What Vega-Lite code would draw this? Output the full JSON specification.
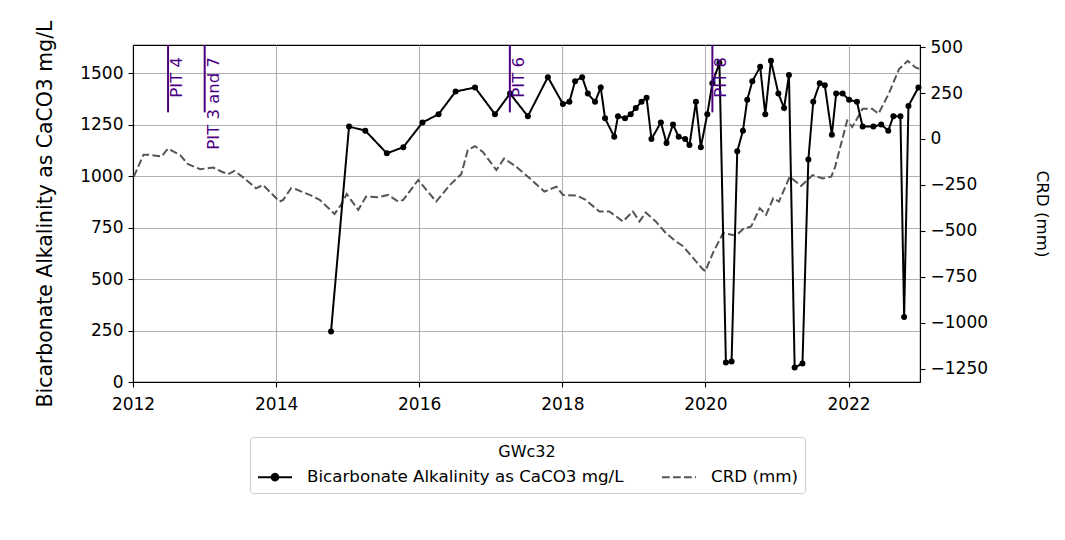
{
  "$schema": "https://vega.github.io/schema/vega-lite/v6.json",
  "width": 787,
  "height": 337,
  "autosize": {"type": "none"},
  "padding": {"left": 133, "top": 45, "right": 145, "bottom": 158},
  "background": "white",
  "datasets": {
    "crd": [
      {"date": "2012-01-05", "v": -205}, {"date": "2012-02-24", "v": -85}, {"date": "2012-03-18", "v": -85},
      {"date": "2012-05-26", "v": -95}, {"date": "2012-06-28", "v": -52}, {"date": "2012-08-29", "v": -88},
      {"date": "2012-10-08", "v": -137}, {"date": "2012-12-09", "v": -164}, {"date": "2013-02-13", "v": -155},
      {"date": "2013-03-29", "v": -178}, {"date": "2013-04-30", "v": -191}, {"date": "2013-06-02", "v": -173},
      {"date": "2013-07-23", "v": -214}, {"date": "2013-09-20", "v": -268}, {"date": "2013-10-26", "v": -250},
      {"date": "2013-12-16", "v": -304}, {"date": "2014-01-18", "v": -340}, {"date": "2014-02-06", "v": -331},
      {"date": "2014-03-18", "v": -268}, {"date": "2014-04-12", "v": -273}, {"date": "2014-06-21", "v": -304},
      {"date": "2014-08-11", "v": -331}, {"date": "2014-10-26", "v": -407}, {"date": "2014-11-28", "v": -358},
      {"date": "2014-12-27", "v": -299}, {"date": "2015-02-24", "v": -385}, {"date": "2015-04-05", "v": -313},
      {"date": "2015-06-06", "v": -317}, {"date": "2015-07-27", "v": -304}, {"date": "2015-09-16", "v": -340},
      {"date": "2015-10-12", "v": -331}, {"date": "2015-12-27", "v": -223}, {"date": "2016-03-28", "v": -340},
      {"date": "2016-06-06", "v": -250}, {"date": "2016-08-03", "v": -191}, {"date": "2016-09-05", "v": -61},
      {"date": "2016-10-12", "v": -39}, {"date": "2016-11-21", "v": -70}, {"date": "2017-01-29", "v": -169},
      {"date": "2017-03-10", "v": -106}, {"date": "2017-05-11", "v": -151}, {"date": "2017-07-23", "v": -218},
      {"date": "2017-10-01", "v": -286}, {"date": "2017-12-02", "v": -259}, {"date": "2018-01-04", "v": -304},
      {"date": "2018-03-18", "v": -308}, {"date": "2018-04-30", "v": -331}, {"date": "2018-07-09", "v": -394},
      {"date": "2018-08-29", "v": -394}, {"date": "2018-11-06", "v": -448}, {"date": "2018-12-27", "v": -394},
      {"date": "2019-01-30", "v": -448}, {"date": "2019-03-03", "v": -400}, {"date": "2019-04-23", "v": -448},
      {"date": "2019-06-13", "v": -511}, {"date": "2019-08-03", "v": -556}, {"date": "2019-09-09", "v": -583},
      {"date": "2019-10-30", "v": -646}, {"date": "2019-12-20", "v": -709}, {"date": "2020-01-01", "v": -718},
      {"date": "2020-02-09", "v": -619}, {"date": "2020-04-01", "v": -511}, {"date": "2020-06-06", "v": -525},
      {"date": "2020-07-12", "v": -489}, {"date": "2020-08-22", "v": -475}, {"date": "2020-10-05", "v": -376},
      {"date": "2020-11-06", "v": -412}, {"date": "2020-12-13", "v": -322}, {"date": "2021-01-11", "v": -340},
      {"date": "2021-03-07", "v": -205}, {"date": "2021-05-04", "v": -255}, {"date": "2021-07-02", "v": -196},
      {"date": "2021-08-22", "v": -214}, {"date": "2021-10-05", "v": -205}, {"date": "2021-10-25", "v": -150},
      {"date": "2021-12-25", "v": 100}, {"date": "2022-01-20", "v": 65}, {"date": "2022-03-14", "v": 164},
      {"date": "2022-05-01", "v": 165}, {"date": "2022-06-03", "v": 137}, {"date": "2022-07-27", "v": 250},
      {"date": "2022-09-16", "v": 380}, {"date": "2022-10-30", "v": 425}, {"date": "2022-12-09", "v": 389},
      {"date": "2022-12-31", "v": 380}
    ],
    "alk": [
      {"date": "2014-10-08", "v": 245}, {"date": "2015-01-08", "v": 1240}, {"date": "2015-04-01", "v": 1220},
      {"date": "2015-07-20", "v": 1110}, {"date": "2015-10-12", "v": 1140}, {"date": "2016-01-18", "v": 1260},
      {"date": "2016-04-09", "v": 1300}, {"date": "2016-07-05", "v": 1410}, {"date": "2016-10-12", "v": 1430},
      {"date": "2017-01-22", "v": 1300}, {"date": "2017-04-09", "v": 1400}, {"date": "2017-07-09", "v": 1290},
      {"date": "2017-10-19", "v": 1480}, {"date": "2018-01-04", "v": 1350}, {"date": "2018-02-06", "v": 1360},
      {"date": "2018-03-07", "v": 1460}, {"date": "2018-04-12", "v": 1480}, {"date": "2018-05-11", "v": 1400},
      {"date": "2018-06-17", "v": 1360}, {"date": "2018-07-16", "v": 1430}, {"date": "2018-08-07", "v": 1280},
      {"date": "2018-09-23", "v": 1190}, {"date": "2018-10-12", "v": 1290}, {"date": "2018-11-17", "v": 1280},
      {"date": "2018-12-16", "v": 1300}, {"date": "2019-01-11", "v": 1330}, {"date": "2019-02-09", "v": 1360},
      {"date": "2019-03-07", "v": 1380}, {"date": "2019-04-01", "v": 1180}, {"date": "2019-05-19", "v": 1260},
      {"date": "2019-06-17", "v": 1160}, {"date": "2019-07-20", "v": 1250}, {"date": "2019-08-18", "v": 1190},
      {"date": "2019-09-20", "v": 1180}, {"date": "2019-10-12", "v": 1150}, {"date": "2019-11-14", "v": 1360},
      {"date": "2019-12-09", "v": 1140}, {"date": "2020-01-11", "v": 1300}, {"date": "2020-02-06", "v": 1450},
      {"date": "2020-03-13", "v": 1550}, {"date": "2020-04-15", "v": 95}, {"date": "2020-05-14", "v": 100},
      {"date": "2020-06-12", "v": 1120}, {"date": "2020-07-11", "v": 1220}, {"date": "2020-08-02", "v": 1370},
      {"date": "2020-08-28", "v": 1460}, {"date": "2020-10-07", "v": 1530}, {"date": "2020-11-02", "v": 1300},
      {"date": "2020-12-01", "v": 1560}, {"date": "2021-01-08", "v": 1400}, {"date": "2021-02-06", "v": 1330},
      {"date": "2021-03-03", "v": 1490}, {"date": "2021-04-01", "v": 70}, {"date": "2021-05-11", "v": 90},
      {"date": "2021-06-10", "v": 1080}, {"date": "2021-07-05", "v": 1360}, {"date": "2021-08-07", "v": 1450},
      {"date": "2021-09-02", "v": 1440}, {"date": "2021-10-08", "v": 1200}, {"date": "2021-10-30", "v": 1400},
      {"date": "2021-12-02", "v": 1400}, {"date": "2022-01-04", "v": 1370}, {"date": "2022-02-13", "v": 1360},
      {"date": "2022-03-14", "v": 1240}, {"date": "2022-05-08", "v": 1240}, {"date": "2022-06-17", "v": 1250},
      {"date": "2022-07-23", "v": 1220}, {"date": "2022-08-18", "v": 1290}, {"date": "2022-09-23", "v": 1290},
      {"date": "2022-10-12", "v": 315}, {"date": "2022-11-03", "v": 1340}, {"date": "2022-12-24", "v": 1430}
    ],
    "pits": [
      {"date": "2012-06-28", "label": "PIT 4"},
      {"date": "2013-01-01", "label": "PIT 3 and 7"},
      {"date": "2017-04-08", "label": "PIT 6"},
      {"date": "2020-02-06", "label": "PIT 8"}
    ]
  },
  "resolve": {"scale": {"y": "independent"}},
  "layer": [
    {
      "data": {"name": "crd"},
      "transform": [{"calculate": "'CRD (mm)'", "as": "series"}],
      "mark": {"type": "line", "strokeWidth": 2, "clip": true},
      "encoding": {
        "x": {
          "field": "date", "type": "temporal",
          "scale": {"type": "utc", "domain": [{"year": 2012, "month": 1, "date": 1, "utc": true}, {"year": 2023, "month": 1, "date": 1, "utc": true}]},
          "axis": {
            "title": null, "format": "%Y", "grid": true, "labelFlush": false, "labelPadding": 9,
            "values": [{"year": 2012, "utc": true}, {"year": 2014, "utc": true}, {"year": 2016, "utc": true}, {"year": 2018, "utc": true}, {"year": 2020, "utc": true}, {"year": 2022, "utc": true}]
          }
        },
        "y": {
          "field": "v", "type": "quantitative",
          "scale": {"domain": [-1321, 511], "nice": false, "zero": false},
          "axis": {"orient": "right", "title": "CRD (mm)", "titleFontSize": 16.7, "format": "d", "grid": false, "values": [-1250, -1000, -750, -500, -250, 0, 250, 500], "titlePadding": 45}
        },
        "color": {
          "field": "series", "type": "nominal",
          "scale": {"domain": ["Bicarbonate Alkalinity as CaCO3 mg/L", "CRD (mm)"], "range": ["#000000", "#555555"]},
          "legend": {
            "title": "GWc32", "orient": "none", "legendX": 117, "legendY": 392,
            "direction": "horizontal", "columns": 2, "columnPadding": 34,
            "titleAnchor": "middle", "titleFontSize": 16, "titleFontWeight": "normal", "titleColor": "black", "titlePadding": 6,
            "labelFontSize": 16.7, "labelColor": "black", "labelOffset": 21, "labelLimit": 600,
            "symbolSize": 400, "symbolStrokeWidth": 2, "symbolOffset": 7,
            "padding": 7, "strokeColor": "#cccccc", "fillColor": "white", "cornerRadius": 3,
            "encode": {"symbols": {"update": {
              "shape": {"signal": "datum.value === 'CRD (mm)' ? 'M-1.7,0L1.7,0' : 'M-1.7,0L1.7,0M0.33,0A0.33,0.33,0,1,1,-0.33,0A0.33,0.33,0,1,1,0.33,0Z'"},
              "fill": {"signal": "datum.value === 'CRD (mm)' ? 'transparent' : 'black'"}
            }}}
          }
        },
        "strokeDash": {
          "field": "series", "type": "nominal",
          "scale": {"domain": ["Bicarbonate Alkalinity as CaCO3 mg/L", "CRD (mm)"], "range": [[1, 0], [7.7, 3.3]]},
          "legend": {"title": "GWc32"}
        }
      }
    },
    {
      "layer": [
        {
          "data": {"name": "alk"},
          "transform": [{"calculate": "'Bicarbonate Alkalinity as CaCO3 mg/L'", "as": "series"}],
          "mark": {"type": "line", "strokeWidth": 2, "point": {"filled": true, "size": 36}},
          "encoding": {
            "x": {"field": "date", "type": "temporal"},
            "y": {
              "field": "v", "type": "quantitative",
              "scale": {"domain": [0, 1636], "nice": false, "zero": false},
              "axis": {"orient": "left", "title": "Bicarbonate Alkalinity as CaCO3 mg/L", "titleFontSize": 20.4, "format": "d", "grid": true, "values": [0, 250, 500, 750, 1000, 1250, 1500], "titlePadding": 24}
            },
            "color": {"field": "series", "type": "nominal"},
            "strokeDash": {"field": "series", "type": "nominal"}
          }
        },
        {
          "data": {"name": "pits"},
          "mark": {"type": "rule", "color": "#4B0082", "strokeWidth": 2},
          "encoding": {
            "x": {"field": "date", "type": "temporal"},
            "y": {"datum": 1309, "type": "quantitative"},
            "y2": {"datum": 1636}
          }
        },
        {
          "data": {"name": "pits"},
          "mark": {"type": "text", "color": "#4B0082", "angle": 270, "align": "right", "baseline": "top", "dx": -12, "dy": 1, "fontSize": 16.5},
          "encoding": {
            "x": {"field": "date", "type": "temporal"},
            "y": {"datum": 1636, "type": "quantitative"},
            "text": {"field": "label"}
          }
        }
      ]
    }
  ],
  "config": {
    "font": "DejaVu Sans",
    "axis": {
      "labelFontSize": 17, "titleFontSize": 14, "titleFontWeight": "normal",
      "labelColor": "black", "titleColor": "black", "tickColor": "black", "domainColor": "black",
      "tickSize": 5, "labelPadding": 5, "gridColor": "#b0b0b0", "gridWidth": 1.1, "domainWidth": 1.1, "tickWidth": 1.1
    },
    "view": {"stroke": "black", "strokeWidth": 1.1}
  }
}
